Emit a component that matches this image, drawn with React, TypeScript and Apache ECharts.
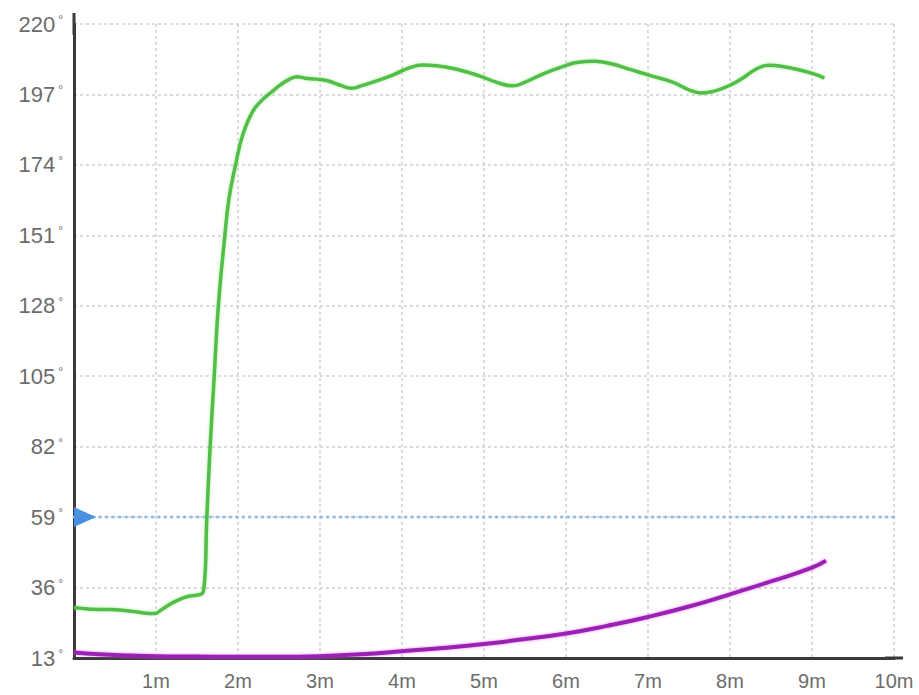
import React, { useEffect, useRef } from "react";
import * as echarts from "echarts";

// Time in minutes, temperature in degrees
const greenSeries: [number, number][] = [
  [0, 29.5], [0.1, 29.2], [0.2, 28.9], [0.45, 28.8], [0.7, 28.3], [0.85, 27.7], [0.98, 27.5],
  [1.08, 29], [1.2, 31], [1.35, 32.8], [1.58, 35], [1.62, 59], [1.66, 82], [1.71, 105],
  [1.76, 128], [1.84, 151], [1.89, 163], [1.97, 174], [2.06, 184], [2.18, 191.5], [2.3, 195.3],
  [2.41, 197.8], [2.52, 200.2], [2.63, 202], [2.72, 202.8], [2.82, 202.3], [2.95, 202],
  [3.1, 201.4], [3.25, 200], [3.38, 199], [3.5, 199.8], [3.7, 201.5], [3.9, 203.5],
  [4.08, 205.6], [4.25, 206.6], [4.42, 206.4], [4.7, 205], [4.95, 203], [5.15, 201],
  [5.35, 199.8], [5.5, 201], [5.7, 203.5], [5.95, 206], [6.15, 207.5], [6.35, 207.8],
  [6.55, 207], [6.8, 205], [7.05, 203], [7.3, 201], [7.5, 198.5], [7.65, 197.5], [7.8, 198],
  [8.0, 200], [8.18, 202.8], [8.32, 205.3], [8.47, 206.5], [8.62, 206.2], [8.85, 205], [9.05, 203.5], [9.15, 202.3],
];

const purpleSeries: [number, number][] = [
  [0, 14.8], [0.3, 14.2], [0.7, 13.8], [1, 13.6], [1.5, 13.5], [2, 13.4], [2.5, 13.4],
  [3, 13.6], [3.5, 14.2], [4, 15.2], [4.5, 16.3], [5, 17.6], [5.5, 19.2], [6, 21],
  [6.5, 23.5], [7, 26.4], [7.5, 29.8], [8, 33.8], [8.5, 38], [9, 42.5], [9.17, 44.8],
];

const thresholdValue = 59;
const xRange = [0, 10];
const yTicks = { min: 13, max: 220, step: 23 };

const FONT = "'Liberation Sans', Arial, sans-serif";
const LABEL_COLOR = "#6c6c6c";

export default function App() {
  const ref = useRef<HTMLDivElement>(null);

  useEffect(() => {
    if (!ref.current) return;
    const chart = echarts.init(ref.current, undefined, { renderer: "svg" });
    const gridLine = { show: true, lineStyle: { color: "#cfcfcf", width: 1.5, type: [3, 3] as any } };
    chart.setOption({
      animation: false,
      backgroundColor: "#ffffff",
      grid: { left: 74, right: 25, top: 24, bottom: 37, containLabel: false, outerBoundsMode: "none" },
      xAxis: {
        type: "value",
        min: xRange[0],
        max: xRange[1],
        interval: 1,
        axisLine: {
          show: true,
          onZero: false,
          symbol: ["none", "rect"],
          symbolSize: [3, 18],
          lineStyle: { color: "#3a3a3a", width: 3 },
        },
        axisTick: { show: false },
        splitLine: gridLine,
        axisLabel: {
          margin: 13,
          fontSize: 20,
          color: LABEL_COLOR,
          fontFamily: FONT,
          formatter: (v: number) => (v === 0 ? "" : `${v}m`),
        },
      },
      yAxis: {
        type: "value",
        min: yTicks.min,
        max: yTicks.max,
        interval: yTicks.step,
        axisLine: {
          show: true,
          onZero: false,
          symbol: ["none", "rect"],
          symbolSize: [3, 22],
          lineStyle: { color: "#3a3a3a", width: 3 },
        },
        axisTick: { show: false },
        splitLine: gridLine,
        axisLabel: {
          margin: 11,
          formatter: (v: number) => `{v|${v}}{d|°}`,
          rich: {
            v: { fontSize: 22, lineHeight: 24, color: LABEL_COLOR, fontFamily: FONT },
            d: { fontSize: 12, lineHeight: 12, verticalAlign: "top", color: LABEL_COLOR, fontFamily: FONT, padding: [2, 0, 0, 3] },
          },
        },
      },
      series: [
        {
          type: "line",
          name: "threshold",
          data: [[xRange[0], thresholdValue], [xRange[1], thresholdValue]],
          showSymbol: false,
          symbol: "none",
          lineStyle: { color: "#93bbe8", width: 3, type: [0.5, 6] as any, cap: "round" },
          z: 3,
          markPoint: {
            silent: true,
            symbol: "triangle",
            symbolSize: [20, 22],
            symbolRotate: -90,
            symbolOffset: [11, 0],
            itemStyle: { color: "#4a90e2" },
            label: { show: false },
            data: [{ coord: [xRange[0], thresholdValue] }],
          },
        },
        {
          type: "line",
          name: "purple",
          data: purpleSeries,
          smooth: true,
          showSymbol: false,
          symbol: "none",
          lineStyle: { color: "#9a20b2", width: 4, shadowColor: "rgba(220,80,240,0.7)", shadowBlur: 3 },
          z: 4,
        },
        {
          type: "line",
          name: "green",
          data: greenSeries,
          smooth: 0.45,
          showSymbol: false,
          symbol: "none",
          lineStyle: { color: "#52bd48", width: 3.5, shadowColor: "rgba(120,230,100,0.6)", shadowBlur: 3 },
          z: 5,
        },
      ],
    });
    return () => chart.dispose();
  }, []);

  return (
    <div
      ref={ref}
      style={{ position: "absolute", left: 0, top: 0, width: 919, height: 695, background: "#fff" }}
    />
  );
}
